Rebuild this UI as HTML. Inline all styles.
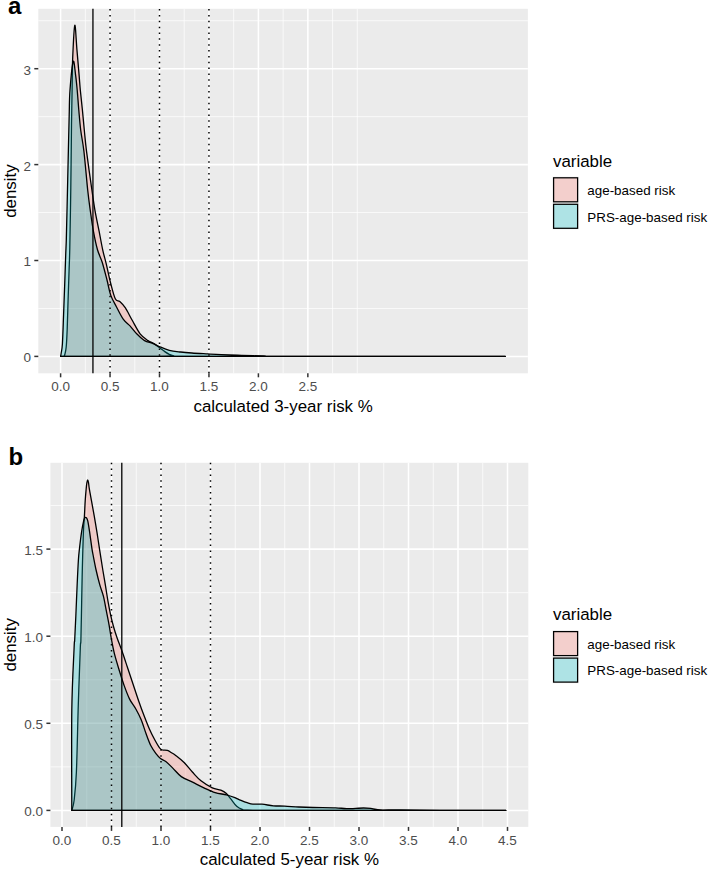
<!DOCTYPE html>
<html><head><meta charset="utf-8"><title>density</title>
<style>
html,body{margin:0;padding:0;background:#fff}
svg{display:block}
text{font-family:"Liberation Sans",sans-serif}
.t{font-size:13.5px;fill:#4d4d4d}
.a{font-size:16.9px;fill:#000}
.l{font-size:13.4px;fill:#000}
.b{font-size:24px;font-weight:bold;fill:#000}
</style></head><body>
<svg width="709" height="873" viewBox="0 0 709 873">
<rect width="709" height="873" fill="#fff"/>
<rect x="38.30" y="8.80" width="489.60" height="364.50" fill="#ebebeb"/>
<line x1="85.33" x2="85.33" y1="8.80" y2="373.30" stroke="#fff" stroke-width="0.72"/>
<line x1="134.78" x2="134.78" y1="8.80" y2="373.30" stroke="#fff" stroke-width="0.72"/>
<line x1="184.22" x2="184.22" y1="8.80" y2="373.30" stroke="#fff" stroke-width="0.72"/>
<line x1="233.68" x2="233.68" y1="8.80" y2="373.30" stroke="#fff" stroke-width="0.72"/>
<line x1="283.12" x2="283.12" y1="8.80" y2="373.30" stroke="#fff" stroke-width="0.72"/>
<line x1="332.58" x2="332.58" y1="8.80" y2="373.30" stroke="#fff" stroke-width="0.72"/>
<line x1="357.30" x2="357.30" y1="8.80" y2="373.30" stroke="#fff" stroke-width="0.72"/>
<line x1="38.30" x2="527.90" y1="308.45" y2="308.45" stroke="#fff" stroke-width="0.72"/>
<line x1="38.30" x2="527.90" y1="212.55" y2="212.55" stroke="#fff" stroke-width="0.72"/>
<line x1="38.30" x2="527.90" y1="116.65" y2="116.65" stroke="#fff" stroke-width="0.72"/>
<line x1="38.30" x2="527.90" y1="20.75" y2="20.75" stroke="#fff" stroke-width="0.72"/>
<line x1="60.60" x2="60.60" y1="8.80" y2="373.30" stroke="#fff" stroke-width="1.55"/>
<line x1="110.05" x2="110.05" y1="8.80" y2="373.30" stroke="#fff" stroke-width="1.55"/>
<line x1="159.50" x2="159.50" y1="8.80" y2="373.30" stroke="#fff" stroke-width="1.55"/>
<line x1="208.95" x2="208.95" y1="8.80" y2="373.30" stroke="#fff" stroke-width="1.55"/>
<line x1="258.40" x2="258.40" y1="8.80" y2="373.30" stroke="#fff" stroke-width="1.55"/>
<line x1="307.85" x2="307.85" y1="8.80" y2="373.30" stroke="#fff" stroke-width="1.55"/>
<line x1="38.30" x2="527.90" y1="356.40" y2="356.40" stroke="#fff" stroke-width="1.55"/>
<line x1="38.30" x2="527.90" y1="260.50" y2="260.50" stroke="#fff" stroke-width="1.55"/>
<line x1="38.30" x2="527.90" y1="164.60" y2="164.60" stroke="#fff" stroke-width="1.55"/>
<line x1="38.30" x2="527.90" y1="68.70" y2="68.70" stroke="#fff" stroke-width="1.55"/>
<path d="M60.60 356.40 C61.13 356.38 63.10 356.62 63.80 356.30 C64.50 355.98 64.40 356.05 64.80 354.50 C65.20 352.95 65.80 351.22 66.20 347.00 C66.60 342.78 66.88 337.12 67.20 329.20 C67.52 321.28 67.78 309.42 68.10 299.50 C68.42 289.58 68.82 278.38 69.10 269.70 C69.38 261.02 69.52 261.07 69.80 247.40 C70.08 233.73 70.52 208.10 70.80 187.70 C71.08 167.30 71.28 141.28 71.50 125.00 C71.72 108.72 71.90 101.17 72.10 90.00 C72.30 78.83 72.25 68.78 72.70 58.00 C73.15 47.22 74.10 26.73 74.80 25.30 C75.50 23.87 76.18 41.10 76.90 49.40 C77.62 57.70 78.53 68.33 79.10 75.10 C79.67 81.87 79.75 84.18 80.30 90.00 C80.85 95.82 81.73 103.33 82.40 110.00 C83.07 116.67 83.62 123.13 84.30 130.00 C84.98 136.87 85.23 141.20 86.50 151.20 C87.77 161.20 90.48 180.10 91.90 190.00 C93.32 199.90 93.80 203.73 95.00 210.60 C96.20 217.47 97.82 224.67 99.10 231.20 C100.38 237.73 101.50 244.30 102.70 249.80 C103.90 255.30 104.98 258.67 106.30 264.20 C107.62 269.73 109.10 277.23 110.60 283.00 C112.10 288.77 113.77 295.72 115.30 298.80 C116.83 301.88 118.12 299.98 119.80 301.50 C121.48 303.02 123.33 304.77 125.40 307.90 C127.47 311.03 129.75 315.98 132.20 320.30 C134.65 324.62 137.47 330.42 140.10 333.80 C142.73 337.18 145.68 338.97 148.00 340.60 C150.32 342.23 152.12 342.45 154.00 343.60 C155.88 344.75 157.50 346.17 159.30 347.50 C161.10 348.83 163.13 350.47 164.80 351.60 C166.47 352.73 167.78 353.57 169.30 354.30 C170.82 355.03 171.78 355.65 173.90 356.00 C176.02 356.35 126.77 356.33 182.00 356.40 C237.23 356.47 451.42 356.40 505.30 356.40 Z" fill="#F8766D" fill-opacity="0.28" stroke="#000" stroke-width="1.3" stroke-linejoin="round"/>
<path d="M60.60 356.40 C60.70 355.83 60.90 355.07 61.20 353.00 C61.50 350.93 62.00 350.45 62.40 344.00 C62.80 337.55 63.22 324.20 63.60 314.30 C63.98 304.40 64.35 294.50 64.70 284.60 C65.05 274.70 65.43 262.33 65.70 254.90 C65.97 247.47 66.07 248.02 66.30 240.00 C66.53 231.98 66.78 220.47 67.10 206.80 C67.42 193.13 67.85 173.30 68.20 158.00 C68.55 142.70 68.90 126.33 69.20 115.00 C69.50 103.67 69.33 98.93 70.00 90.00 C70.67 81.07 72.27 63.88 73.20 61.40 C74.13 58.92 74.93 70.33 75.60 75.10 C76.27 79.87 76.67 84.18 77.20 90.00 C77.73 95.82 78.22 103.33 78.80 110.00 C79.38 116.67 79.85 123.13 80.70 130.00 C81.55 136.87 82.73 141.20 83.90 151.20 C85.07 161.20 86.63 180.10 87.70 190.00 C88.77 199.90 89.35 203.73 90.30 210.60 C91.25 217.47 92.20 224.67 93.40 231.20 C94.60 237.73 96.03 244.63 97.50 249.80 C98.97 254.97 100.62 257.17 102.20 262.20 C103.78 267.23 105.57 274.47 107.00 280.00 C108.43 285.53 109.23 290.95 110.80 295.40 C112.37 299.85 114.33 302.75 116.40 306.70 C118.47 310.65 120.93 315.90 123.20 319.10 C125.47 322.30 127.75 323.45 130.00 325.90 C132.25 328.35 134.27 331.35 136.70 333.80 C139.13 336.25 141.97 339.00 144.60 340.60 C147.23 342.20 150.05 342.40 152.50 343.40 C154.95 344.40 156.50 345.45 159.30 346.60 C162.10 347.75 165.75 349.40 169.30 350.30 C172.85 351.20 176.83 351.55 180.60 352.00 C184.37 352.45 187.38 352.68 191.90 353.00 C196.42 353.32 202.82 353.63 207.70 353.90 C212.58 354.17 215.55 354.35 221.20 354.60 C226.85 354.85 234.45 355.17 241.60 355.40 C248.75 355.63 256.87 355.83 264.10 356.00 C271.33 356.17 244.80 356.33 285.00 356.40 C325.20 356.47 468.58 356.40 505.30 356.40 Z" fill="#00BFC4" fill-opacity="0.28" stroke="#000" stroke-width="1.3" stroke-linejoin="round"/>
<line x1="92.94" x2="92.94" y1="8.80" y2="373.30" stroke="#000" stroke-width="1.3"/>
<line x1="110.05" x2="110.05" y1="373.30" y2="8.80" stroke="#000" stroke-width="1.5" stroke-dasharray="1.5 4.35"/>
<line x1="159.50" x2="159.50" y1="373.30" y2="8.80" stroke="#000" stroke-width="1.5" stroke-dasharray="1.5 4.35"/>
<line x1="208.95" x2="208.95" y1="373.30" y2="8.80" stroke="#000" stroke-width="1.5" stroke-dasharray="1.5 4.35"/>
<line x1="60.60" x2="60.60" y1="373.30" y2="377.30" stroke="#333" stroke-width="1.5"/>
<text x="60.60" y="391.20" text-anchor="middle" class="t">0.0</text>
<line x1="110.05" x2="110.05" y1="373.30" y2="377.30" stroke="#333" stroke-width="1.5"/>
<text x="110.05" y="391.20" text-anchor="middle" class="t">0.5</text>
<line x1="159.50" x2="159.50" y1="373.30" y2="377.30" stroke="#333" stroke-width="1.5"/>
<text x="159.50" y="391.20" text-anchor="middle" class="t">1.0</text>
<line x1="208.95" x2="208.95" y1="373.30" y2="377.30" stroke="#333" stroke-width="1.5"/>
<text x="208.95" y="391.20" text-anchor="middle" class="t">1.5</text>
<line x1="258.40" x2="258.40" y1="373.30" y2="377.30" stroke="#333" stroke-width="1.5"/>
<text x="258.40" y="391.20" text-anchor="middle" class="t">2.0</text>
<line x1="307.85" x2="307.85" y1="373.30" y2="377.30" stroke="#333" stroke-width="1.5"/>
<text x="307.85" y="391.20" text-anchor="middle" class="t">2.5</text>
<line x1="34.30" x2="38.30" y1="356.40" y2="356.40" stroke="#333" stroke-width="1.5"/>
<text x="30.90" y="362.30" text-anchor="end" class="t">0</text>
<line x1="34.30" x2="38.30" y1="260.50" y2="260.50" stroke="#333" stroke-width="1.5"/>
<text x="30.90" y="266.40" text-anchor="end" class="t">1</text>
<line x1="34.30" x2="38.30" y1="164.60" y2="164.60" stroke="#333" stroke-width="1.5"/>
<text x="30.90" y="170.50" text-anchor="end" class="t">2</text>
<line x1="34.30" x2="38.30" y1="68.70" y2="68.70" stroke="#333" stroke-width="1.5"/>
<text x="30.90" y="74.60" text-anchor="end" class="t">3</text>
<text x="283.10" y="411.70" text-anchor="middle" class="a">calculated 3-year risk %</text>
<text transform="translate(16.2 191.05) rotate(-90)" text-anchor="middle" class="a">density</text>
<text x="8.00" y="13.60" class="b">a</text>
<text x="553" y="166.50" class="a">variable</text>
<rect x="552.35" y="176.55" width="26.5" height="26.5" fill="#f2f2f2"/>
<rect x="553.6" y="177.80" width="24" height="24" fill="#F8766D" fill-opacity="0.28" stroke="#000" stroke-width="1.25"/>
<text x="587.3" y="195.05" class="l">age-based risk</text>
<rect x="552.35" y="203.05" width="26.5" height="26.5" fill="#f2f2f2"/>
<rect x="553.6" y="204.30" width="24" height="24" fill="#00BFC4" fill-opacity="0.28" stroke="#000" stroke-width="1.25"/>
<text x="587.3" y="221.55" class="l">PRS-age-based risk</text>
<rect x="50.40" y="462.80" width="477.90" height="364.10" fill="#ebebeb"/>
<line x1="86.75" x2="86.75" y1="462.80" y2="826.90" stroke="#fff" stroke-width="0.72"/>
<line x1="136.25" x2="136.25" y1="462.80" y2="826.90" stroke="#fff" stroke-width="0.72"/>
<line x1="185.75" x2="185.75" y1="462.80" y2="826.90" stroke="#fff" stroke-width="0.72"/>
<line x1="235.25" x2="235.25" y1="462.80" y2="826.90" stroke="#fff" stroke-width="0.72"/>
<line x1="284.75" x2="284.75" y1="462.80" y2="826.90" stroke="#fff" stroke-width="0.72"/>
<line x1="334.25" x2="334.25" y1="462.80" y2="826.90" stroke="#fff" stroke-width="0.72"/>
<line x1="383.75" x2="383.75" y1="462.80" y2="826.90" stroke="#fff" stroke-width="0.72"/>
<line x1="433.25" x2="433.25" y1="462.80" y2="826.90" stroke="#fff" stroke-width="0.72"/>
<line x1="482.75" x2="482.75" y1="462.80" y2="826.90" stroke="#fff" stroke-width="0.72"/>
<line x1="50.40" x2="528.30" y1="766.85" y2="766.85" stroke="#fff" stroke-width="0.72"/>
<line x1="50.40" x2="528.30" y1="679.75" y2="679.75" stroke="#fff" stroke-width="0.72"/>
<line x1="50.40" x2="528.30" y1="592.65" y2="592.65" stroke="#fff" stroke-width="0.72"/>
<line x1="50.40" x2="528.30" y1="505.55" y2="505.55" stroke="#fff" stroke-width="0.72"/>
<line x1="62.00" x2="62.00" y1="462.80" y2="826.90" stroke="#fff" stroke-width="1.55"/>
<line x1="111.50" x2="111.50" y1="462.80" y2="826.90" stroke="#fff" stroke-width="1.55"/>
<line x1="161.00" x2="161.00" y1="462.80" y2="826.90" stroke="#fff" stroke-width="1.55"/>
<line x1="210.50" x2="210.50" y1="462.80" y2="826.90" stroke="#fff" stroke-width="1.55"/>
<line x1="260.00" x2="260.00" y1="462.80" y2="826.90" stroke="#fff" stroke-width="1.55"/>
<line x1="309.50" x2="309.50" y1="462.80" y2="826.90" stroke="#fff" stroke-width="1.55"/>
<line x1="359.00" x2="359.00" y1="462.80" y2="826.90" stroke="#fff" stroke-width="1.55"/>
<line x1="408.50" x2="408.50" y1="462.80" y2="826.90" stroke="#fff" stroke-width="1.55"/>
<line x1="458.00" x2="458.00" y1="462.80" y2="826.90" stroke="#fff" stroke-width="1.55"/>
<line x1="507.50" x2="507.50" y1="462.80" y2="826.90" stroke="#fff" stroke-width="1.55"/>
<line x1="50.40" x2="528.30" y1="810.40" y2="810.40" stroke="#fff" stroke-width="1.55"/>
<line x1="50.40" x2="528.30" y1="723.30" y2="723.30" stroke="#fff" stroke-width="1.55"/>
<line x1="50.40" x2="528.30" y1="636.20" y2="636.20" stroke="#fff" stroke-width="1.55"/>
<line x1="50.40" x2="528.30" y1="549.10" y2="549.10" stroke="#fff" stroke-width="1.55"/>
<path d="M71.80 810.40 C72.18 808.75 73.33 806.90 74.10 800.50 C74.87 794.10 75.70 787.98 76.40 772.00 C77.10 756.02 77.65 725.27 78.30 704.60 C78.95 683.93 79.87 658.77 80.30 648.00 C80.73 637.23 80.67 648.00 80.90 640.00 C81.13 632.00 81.45 612.33 81.70 600.00 C81.95 587.67 82.12 577.35 82.40 566.00 C82.68 554.65 83.07 540.17 83.40 531.90 C83.73 523.63 84.10 521.57 84.40 516.40 C84.70 511.23 84.90 505.53 85.20 500.90 C85.50 496.27 85.92 491.65 86.20 488.60 C86.48 485.55 86.65 484.05 86.90 482.60 C87.15 481.15 87.43 479.90 87.70 479.90 C87.97 479.90 88.23 481.15 88.50 482.60 C88.77 484.05 88.80 485.55 89.30 488.60 C89.80 491.65 90.67 496.27 91.50 500.90 C92.33 505.53 93.40 511.23 94.30 516.40 C95.20 521.57 96.05 526.57 96.90 531.90 C97.75 537.23 98.40 541.97 99.40 548.40 C100.40 554.83 101.88 564.25 102.90 570.50 C103.92 576.75 104.65 580.75 105.50 585.90 C106.35 591.05 107.15 596.58 108.00 601.40 C108.85 606.22 109.65 610.50 110.60 614.80 C111.55 619.10 112.58 623.25 113.70 627.20 C114.82 631.15 115.92 634.53 117.30 638.50 C118.68 642.47 120.30 646.17 122.00 651.00 C123.70 655.83 125.67 662.00 127.50 667.50 C129.33 673.00 131.17 678.50 133.00 684.00 C134.83 689.50 136.67 695.23 138.50 700.50 C140.33 705.77 142.17 710.80 144.00 715.60 C145.83 720.40 147.67 725.18 149.50 729.30 C151.33 733.42 153.28 737.15 155.00 740.30 C156.72 743.45 158.55 746.58 159.80 748.20 C161.05 749.82 161.23 749.63 162.50 750.00 C163.77 750.37 165.90 749.95 167.40 750.40 C168.90 750.85 170.12 751.87 171.50 752.70 C172.88 753.53 173.60 753.77 175.70 755.40 C177.80 757.03 181.28 759.68 184.10 762.50 C186.92 765.32 189.78 769.25 192.60 772.30 C195.42 775.35 197.72 778.22 201.00 780.80 C204.28 783.38 209.00 786.25 212.30 787.80 C215.60 789.35 218.45 789.15 220.80 790.10 C223.15 791.05 224.70 791.98 226.40 793.50 C228.10 795.02 229.28 797.07 231.00 799.20 C232.72 801.33 234.82 804.60 236.70 806.30 C238.58 808.00 240.42 808.75 242.30 809.40 C244.18 810.05 238.38 810.03 248.00 810.20 C257.62 810.37 257.03 810.37 300.00 810.40 C342.97 810.43 471.50 810.40 505.80 810.40 Z" fill="#F8766D" fill-opacity="0.28" stroke="#000" stroke-width="1.3" stroke-linejoin="round"/>
<path d="M71.80 810.40 C71.80 793.67 71.42 737.07 71.80 710.00 C72.18 682.93 73.62 659.67 74.10 648.00 C74.58 636.33 74.42 645.22 74.70 640.00 C74.98 634.78 75.38 626.08 75.80 616.70 C76.22 607.32 76.77 593.15 77.20 583.70 C77.63 574.25 78.02 565.88 78.40 560.00 C78.78 554.12 78.97 553.08 79.50 548.40 C80.03 543.72 80.92 536.43 81.60 531.90 C82.28 527.37 83.08 523.52 83.60 521.20 C84.12 518.88 84.37 518.65 84.70 518.00 C85.03 517.35 85.28 517.30 85.60 517.30 C85.92 517.30 86.23 517.35 86.60 518.00 C86.97 518.65 87.30 518.88 87.80 521.20 C88.30 523.52 88.92 527.37 89.60 531.90 C90.28 536.43 91.32 544.55 91.90 548.40 C92.48 552.25 92.38 551.32 93.10 555.00 C93.82 558.68 95.08 565.52 96.20 570.50 C97.32 575.48 98.60 580.62 99.80 584.90 C101.00 589.18 102.28 591.73 103.40 596.20 C104.52 600.67 105.55 606.88 106.50 611.70 C107.45 616.52 108.28 620.55 109.10 625.10 C109.92 629.65 110.52 634.23 111.40 639.00 C112.28 643.77 113.10 648.50 114.40 653.70 C115.70 658.90 117.58 664.92 119.20 670.20 C120.82 675.48 122.37 680.58 124.10 685.40 C125.83 690.22 127.67 695.22 129.60 699.10 C131.53 702.98 133.77 705.27 135.70 708.70 C137.63 712.13 139.48 715.57 141.20 719.70 C142.92 723.83 144.38 729.15 146.00 733.50 C147.62 737.85 149.17 742.37 150.90 745.80 C152.63 749.23 154.80 751.98 156.40 754.10 C158.00 756.22 158.93 757.27 160.50 758.50 C162.07 759.73 163.75 759.90 165.80 761.50 C167.85 763.10 170.22 765.58 172.80 768.10 C175.38 770.62 178.00 774.25 181.30 776.60 C184.60 778.95 188.83 780.33 192.60 782.20 C196.37 784.07 200.15 786.07 203.90 787.80 C207.65 789.53 211.35 791.42 215.10 792.60 C218.85 793.78 223.10 794.05 226.40 794.90 C229.70 795.75 232.72 796.88 234.90 797.70 C237.08 798.52 236.85 798.78 239.50 799.80 C242.15 800.82 247.05 803.07 250.80 803.80 C254.55 804.53 258.25 803.87 262.00 804.20 C265.75 804.53 269.53 805.48 273.30 805.80 C277.07 806.12 280.37 805.90 284.60 806.10 C288.83 806.30 294.00 806.77 298.70 807.00 C303.40 807.23 306.68 807.37 312.80 807.50 C318.92 807.63 329.75 807.62 335.40 807.80 C341.05 807.98 342.00 808.57 346.70 808.60 C351.40 808.63 359.38 808.00 363.60 808.00 C367.82 808.00 369.18 808.27 372.00 808.60 C374.82 808.93 375.83 809.80 380.50 810.00 C385.17 810.20 390.08 809.75 400.00 809.80 C409.92 809.85 422.37 810.20 440.00 810.30 C457.63 810.40 494.83 810.38 505.80 810.40 Z" fill="#00BFC4" fill-opacity="0.28" stroke="#000" stroke-width="1.3" stroke-linejoin="round"/>
<line x1="121.80" x2="121.80" y1="462.80" y2="826.90" stroke="#000" stroke-width="1.3"/>
<line x1="111.50" x2="111.50" y1="826.90" y2="462.80" stroke="#000" stroke-width="1.5" stroke-dasharray="1.5 4.35"/>
<line x1="161.00" x2="161.00" y1="826.90" y2="462.80" stroke="#000" stroke-width="1.5" stroke-dasharray="1.5 4.35"/>
<line x1="210.50" x2="210.50" y1="826.90" y2="462.80" stroke="#000" stroke-width="1.5" stroke-dasharray="1.5 4.35"/>
<line x1="62.00" x2="62.00" y1="826.90" y2="830.90" stroke="#333" stroke-width="1.5"/>
<text x="62.00" y="844.80" text-anchor="middle" class="t">0.0</text>
<line x1="111.50" x2="111.50" y1="826.90" y2="830.90" stroke="#333" stroke-width="1.5"/>
<text x="111.50" y="844.80" text-anchor="middle" class="t">0.5</text>
<line x1="161.00" x2="161.00" y1="826.90" y2="830.90" stroke="#333" stroke-width="1.5"/>
<text x="161.00" y="844.80" text-anchor="middle" class="t">1.0</text>
<line x1="210.50" x2="210.50" y1="826.90" y2="830.90" stroke="#333" stroke-width="1.5"/>
<text x="210.50" y="844.80" text-anchor="middle" class="t">1.5</text>
<line x1="260.00" x2="260.00" y1="826.90" y2="830.90" stroke="#333" stroke-width="1.5"/>
<text x="260.00" y="844.80" text-anchor="middle" class="t">2.0</text>
<line x1="309.50" x2="309.50" y1="826.90" y2="830.90" stroke="#333" stroke-width="1.5"/>
<text x="309.50" y="844.80" text-anchor="middle" class="t">2.5</text>
<line x1="359.00" x2="359.00" y1="826.90" y2="830.90" stroke="#333" stroke-width="1.5"/>
<text x="359.00" y="844.80" text-anchor="middle" class="t">3.0</text>
<line x1="408.50" x2="408.50" y1="826.90" y2="830.90" stroke="#333" stroke-width="1.5"/>
<text x="408.50" y="844.80" text-anchor="middle" class="t">3.5</text>
<line x1="458.00" x2="458.00" y1="826.90" y2="830.90" stroke="#333" stroke-width="1.5"/>
<text x="458.00" y="844.80" text-anchor="middle" class="t">4.0</text>
<line x1="507.50" x2="507.50" y1="826.90" y2="830.90" stroke="#333" stroke-width="1.5"/>
<text x="507.50" y="844.80" text-anchor="middle" class="t">4.5</text>
<line x1="46.40" x2="50.40" y1="810.40" y2="810.40" stroke="#333" stroke-width="1.5"/>
<text x="43.00" y="816.30" text-anchor="end" class="t">0.0</text>
<line x1="46.40" x2="50.40" y1="723.30" y2="723.30" stroke="#333" stroke-width="1.5"/>
<text x="43.00" y="729.20" text-anchor="end" class="t">0.5</text>
<line x1="46.40" x2="50.40" y1="636.20" y2="636.20" stroke="#333" stroke-width="1.5"/>
<text x="43.00" y="642.10" text-anchor="end" class="t">1.0</text>
<line x1="46.40" x2="50.40" y1="549.10" y2="549.10" stroke="#333" stroke-width="1.5"/>
<text x="43.00" y="555.00" text-anchor="end" class="t">1.5</text>
<text x="289.35" y="865.30" text-anchor="middle" class="a">calculated 5-year risk %</text>
<text transform="translate(16.2 644.85) rotate(-90)" text-anchor="middle" class="a">density</text>
<text x="8.50" y="465.00" class="b">b</text>
<text x="553" y="620.30" class="a">variable</text>
<rect x="552.35" y="630.35" width="26.5" height="26.5" fill="#f2f2f2"/>
<rect x="553.6" y="631.60" width="24" height="24" fill="#F8766D" fill-opacity="0.28" stroke="#000" stroke-width="1.25"/>
<text x="587.3" y="648.85" class="l">age-based risk</text>
<rect x="552.35" y="656.85" width="26.5" height="26.5" fill="#f2f2f2"/>
<rect x="553.6" y="658.10" width="24" height="24" fill="#00BFC4" fill-opacity="0.28" stroke="#000" stroke-width="1.25"/>
<text x="587.3" y="675.35" class="l">PRS-age-based risk</text>
</svg>
</body></html>
